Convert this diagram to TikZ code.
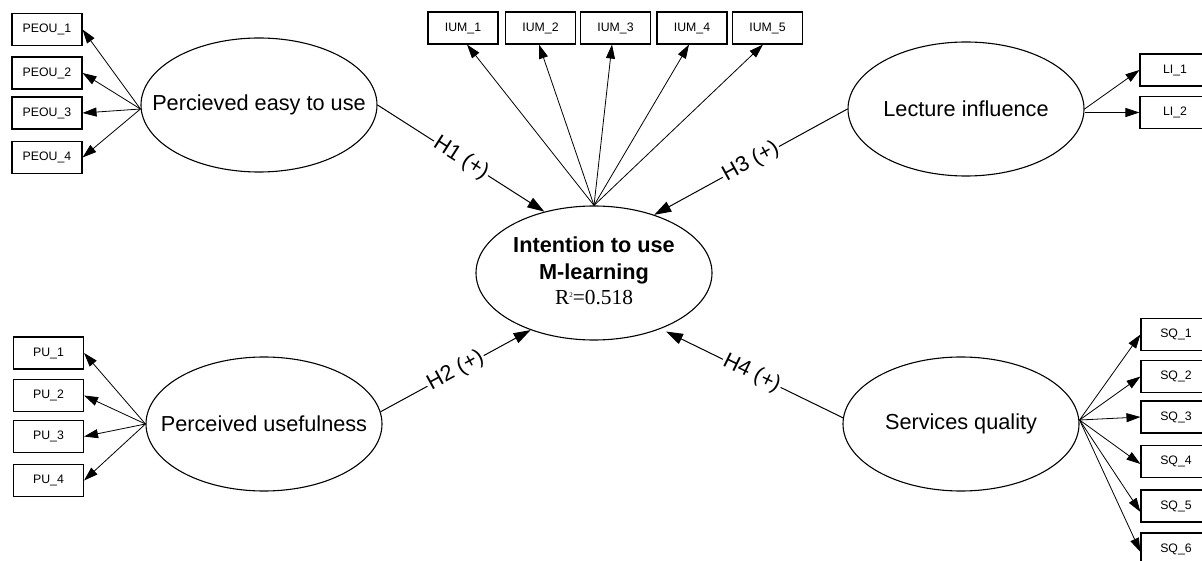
\documentclass[tikz,border=0pt]{standalone}
\usepackage{fontspec}
\setmainfont{Liberation Sans}
\newfontfamily\seriffont{Liberation Serif}
\usetikzlibrary{shapes.geometric,arrows.meta}

% the ellipse keeps its fixed size: its text is given no width
\newcommand{\inellipse}[1]{\makebox[0pt][c]{#1}}

\tikzset{
  latent/.style={ellipse, draw, line width=1.1pt, minimum width=236pt,
    minimum height=134pt, inner sep=0pt, font=\fontsize{21.7}{26}\selectfont},
  indicator/.style={rectangle, draw, line width=1.1pt, minimum width=70pt,
    minimum height=32pt, inner sep=0pt, font=\fontsize{12.3}{14}\selectfont},
  load/.style={line width=0.8pt, -{Triangle[length=14pt,width=9pt]}},
  path/.style={line width=1pt, -{Triangle[length=17pt,width=11pt]}},
  hyp/.style={sloped, fill=white, inner sep=1.5pt, pos=0.5,
    font=\fontsize{21.7}{26}\selectfont}
}

\begin{document}
\begin{tikzpicture}[x=1pt, y=-1pt]
  \fill[white] (0,0) rectangle (1202,561);
  \useasboundingbox (0,0) rectangle (1202,561);
  \clip (0,0) rectangle (1202,561);

  % latent constructs
  \node[latent] (peou) at (259,105) {\inellipse{Percieved easy to use}};
  \node[latent] (pu)   at (264,424) {\inellipse{Perceived usefulness}};
  \node[latent] (lec)  at (966,109) {\inellipse{Lecture influence}};
  \node[latent] (sq)   at (961,424) {\inellipse{Services quality}};
  \node[latent] (inter) at (594,273)
    {\inellipse{\begin{tabular}{@{}c@{}}
       \textbf{Intention to use}\\[1pt]
       \textbf{M-learning}\\[-1pt]
       {\seriffont\fontsize{21.4}{26}\selectfont R\raisebox{7pt}{\fontsize{7}{7}\selectfont 2}=0.518}
     \end{tabular}}};

  % indicators of perceived ease of use
  \node[indicator] (peou1) at (47,29.5)  {PEOU\_1};
  \node[indicator] (peou2) at (47,73)    {PEOU\_2};
  \node[indicator] (peou3) at (47,113)   {PEOU\_3};
  \node[indicator] (peou4) at (47,157.5) {PEOU\_4};

  % indicators of perceived usefulness
  \node[indicator] (pu1) at (48.5,353)   {PU\_1};
  \node[indicator] (pu2) at (48.5,395.5) {PU\_2};
  \node[indicator] (pu3) at (48.5,436.5) {PU\_3};
  \node[indicator] (pu4) at (48.5,480.5) {PU\_4};

  % indicators of intention to use
  \node[indicator] (ium1) at (463,28)   {IUM\_1};
  \node[indicator] (ium2) at (540.5,28) {IUM\_2};
  \node[indicator] (ium3) at (615.5,28) {IUM\_3};
  \node[indicator] (ium4) at (692,28)   {IUM\_4};
  \node[indicator] (ium5) at (767.5,28) {IUM\_5};

  % indicators of lecture influence
  \node[indicator] (li1) at (1175,70)    {LI\_1};
  \node[indicator] (li2) at (1175,112.5) {LI\_2};

  % indicators of services quality
  \node[indicator] (sq1) at (1176,334.5) {SQ\_1};
  \node[indicator] (sq2) at (1176,376.5) {SQ\_2};
  \node[indicator] (sq3) at (1176,417)   {SQ\_3};
  \node[indicator] (sq4) at (1176,461.5) {SQ\_4};
  \node[indicator] (sq5) at (1176,506)   {SQ\_5};
  \node[indicator] (sq6) at (1176,549)   {SQ\_6};

  % loadings
  \foreach \b in {peou1,peou2,peou3,peou4}
    \draw[load] ([yshift=-4pt]peou.west) -- (\b.east);
  \foreach \b in {pu1,pu2,pu3,pu4}
    \draw[load] (pu.west) -- (\b.east);
  \draw[load] (inter.north) -- ([xshift=4pt]ium1.south);
  \draw[load] (inter.north) -- ([xshift=-1.5pt]ium2.south);
  \draw[load] (inter.north) -- ([xshift=-3.5pt]ium3.south);
  \draw[load] (inter.north) -- ([xshift=-3pt]ium4.south);
  \draw[load] (inter.north) -- ([xshift=-4.5pt]ium5.south);
  \draw[load] (lec.east) -- (li1.west);
  \draw[load] (lec.east |- li2.west) -- (li2.west);
  \draw[load] ([yshift=4pt]sq.east) -- (sq1.west);
  \draw[load] ([yshift=4pt]sq.east) -- (sq2.west);
  \draw[load] ([yshift=4pt]sq.east) -- (sq3.west);
  \draw[load] ([yshift=4pt]sq.east) -- ([yshift=-2.5pt]sq4.west);
  \draw[load] ([yshift=4pt]sq.east) -- ([yshift=-6pt]sq5.west);
  \draw[load] ([yshift=4pt]sq.east) -- ([yshift=-3pt]sq6.west);

  % structural paths
  \draw[path] (peou.east) -- node[hyp] {H1 (+)} (inter.129);
  \draw[path] (pu.6) -- node[hyp] {H2 (+)} (inter.222);
  \draw[path] (lec.west) -- node[hyp] {H3 (+)} (inter.44);
  \draw[path, shorten >=6pt] (sq.177) -- node[hyp] {H4 (+)} (inter.-40);
\end{tikzpicture}
\end{document}
